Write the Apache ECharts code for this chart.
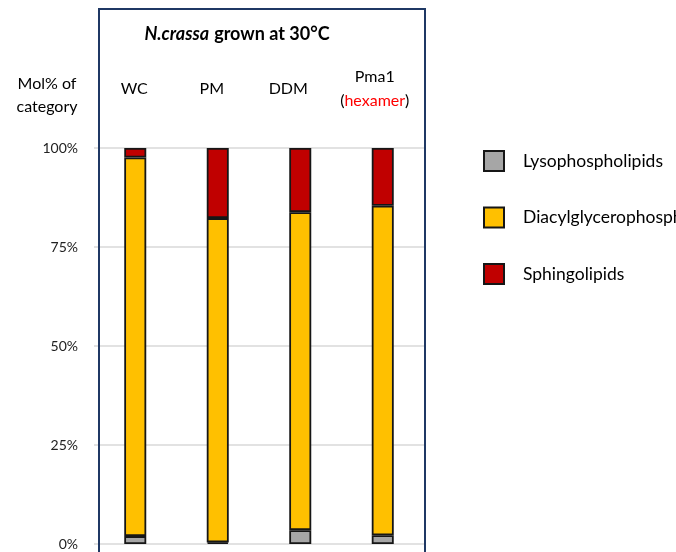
<!DOCTYPE html>
<html>
<head>
<meta charset="utf-8">
<script src="https://cdn.jsdelivr.net/npm/echarts@6/dist/echarts.min.js"></script>
<style>
  html, body { margin: 0; padding: 0; background: #fff; }
  #chart { width: 676px; height: 552px; }
</style>
</head>
<body>
<div id="chart"></div>
<script>
// Lipid class composition (mol% of category) per membrane fraction
const categories = ['WC', 'PM', 'DDM', 'Pma1'];
const lysophospholipids = [2.0, 0.4, 3.5, 2.2];
const diacylglycerophospholipids = [95.6, 81.9, 80.3, 83.2];
const sphingolipids = [2.4, 17.7, 16.2, 14.6];
const yTicks = [0, 25, 50, 75, 100];

// column heading offsets (px): leftward nudge, and lift for one-line headings
const headingNudge = [1, 6, 12, 8];
const headingLift = [12, 12, 12, 0];

const FONT = 'Lato, "Open Sans", sans-serif';
const chart = echarts.init(document.getElementById('chart'), null, { renderer: 'canvas' });

const barBase = {
  type: 'bar',
  stack: 'total',
  barWidth: 22,
  itemStyle: { borderColor: '#161616', borderWidth: 1.8 }
};

chart.setOption({
  animation: false,
  backgroundColor: '#ffffff',
  title: {
    text: '{i|N.crassa} {b|grown at 30°C}',
    left: 237,
    textAlign: 'center',
    top: 25,
    padding: 0,
    textStyle: {
      rich: {
        i: { fontFamily: FONT, fontSize: 18, fontWeight: 'bold', fontStyle: 'italic', color: '#000' },
        b: { fontFamily: FONT, fontSize: 18, fontWeight: 'bold', color: '#000' }
      }
    }
  },
  legend: {
    orient: 'vertical',
    left: 483,
    top: 150,
    padding: 0,
    itemWidth: 20,
    itemHeight: 20,
    itemGap: 34.5,
    icon: 'rect',
    textStyle: { fontFamily: FONT, fontSize: 17.5, color: '#000', padding: [0, 0, 0, 14] },
    data: ['Lysophospholipids', 'Diacylglycerophospholipids', 'Sphingolipids']
  },
  grid: { left: 94, top: 148, width: 330, height: 396, containLabel: false },
  xAxis: {
    type: 'category',
    position: 'top',
    data: categories.map(function (c, i) {
      return { value: c, textStyle: { padding: [0, headingNudge[i] * 2, headingLift[i], 0] } };
    }),
    axisLine: { show: false },
    axisTick: { show: false },
    axisLabel: {
      interval: 0,
      margin: 35,
      fontFamily: FONT,
      fontSize: 16,
      color: '#000',
      lineHeight: 24,
      formatter: function (v) {
        return v === 'Pma1' ? '{p|Pma1}\n{p|(}{r|hexamer}{p|)}' : v;
      },
      rich: {
        r: { color: '#ff0000', fontFamily: FONT, fontSize: 16, lineHeight: 24 },
        p: { color: '#000', fontFamily: FONT, fontSize: 16, lineHeight: 24 }
      }
    }
  },
  yAxis: {
    type: 'value',
    min: yTicks[0],
    max: yTicks[yTicks.length - 1],
    interval: 25,
    axisLine: { show: false },
    axisTick: { show: false },
    splitLine: { lineStyle: { color: '#d9d9d9', width: 1.5 } },
    axisLabel: {
      margin: 16,
      fontFamily: FONT,
      fontSize: 14,
      color: '#222',
      formatter: '{value}%'
    }
  },
  graphic: [
    {
      type: 'rect',
      shape: { x: 99, y: 9, width: 326, height: 560 },
      style: { fill: 'none', stroke: '#1f3864', lineWidth: 2 },
      z: 100
    },
    {
      type: 'text',
      x: 47,
      y: 95,
      style: {
        text: 'Mol% of\ncategory',
        fontFamily: FONT,
        fontSize: 16,
        lineHeight: 23,
        fill: '#000',
        align: 'center',
        verticalAlign: 'middle'
      }
    }
  ],
  series: [
    Object.assign({}, barBase, {
      name: 'Lysophospholipids',
      data: lysophospholipids,
      itemStyle: Object.assign({}, barBase.itemStyle, { color: '#a6a6a6' })
    }),
    Object.assign({}, barBase, {
      name: 'Diacylglycerophospholipids',
      data: diacylglycerophospholipids,
      itemStyle: Object.assign({}, barBase.itemStyle, { color: '#ffc000' })
    }),
    Object.assign({}, barBase, {
      name: 'Sphingolipids',
      data: sphingolipids,
      itemStyle: Object.assign({}, barBase.itemStyle, { color: '#c00000' })
    })
  ]
});
</script>
</body>
</html>
